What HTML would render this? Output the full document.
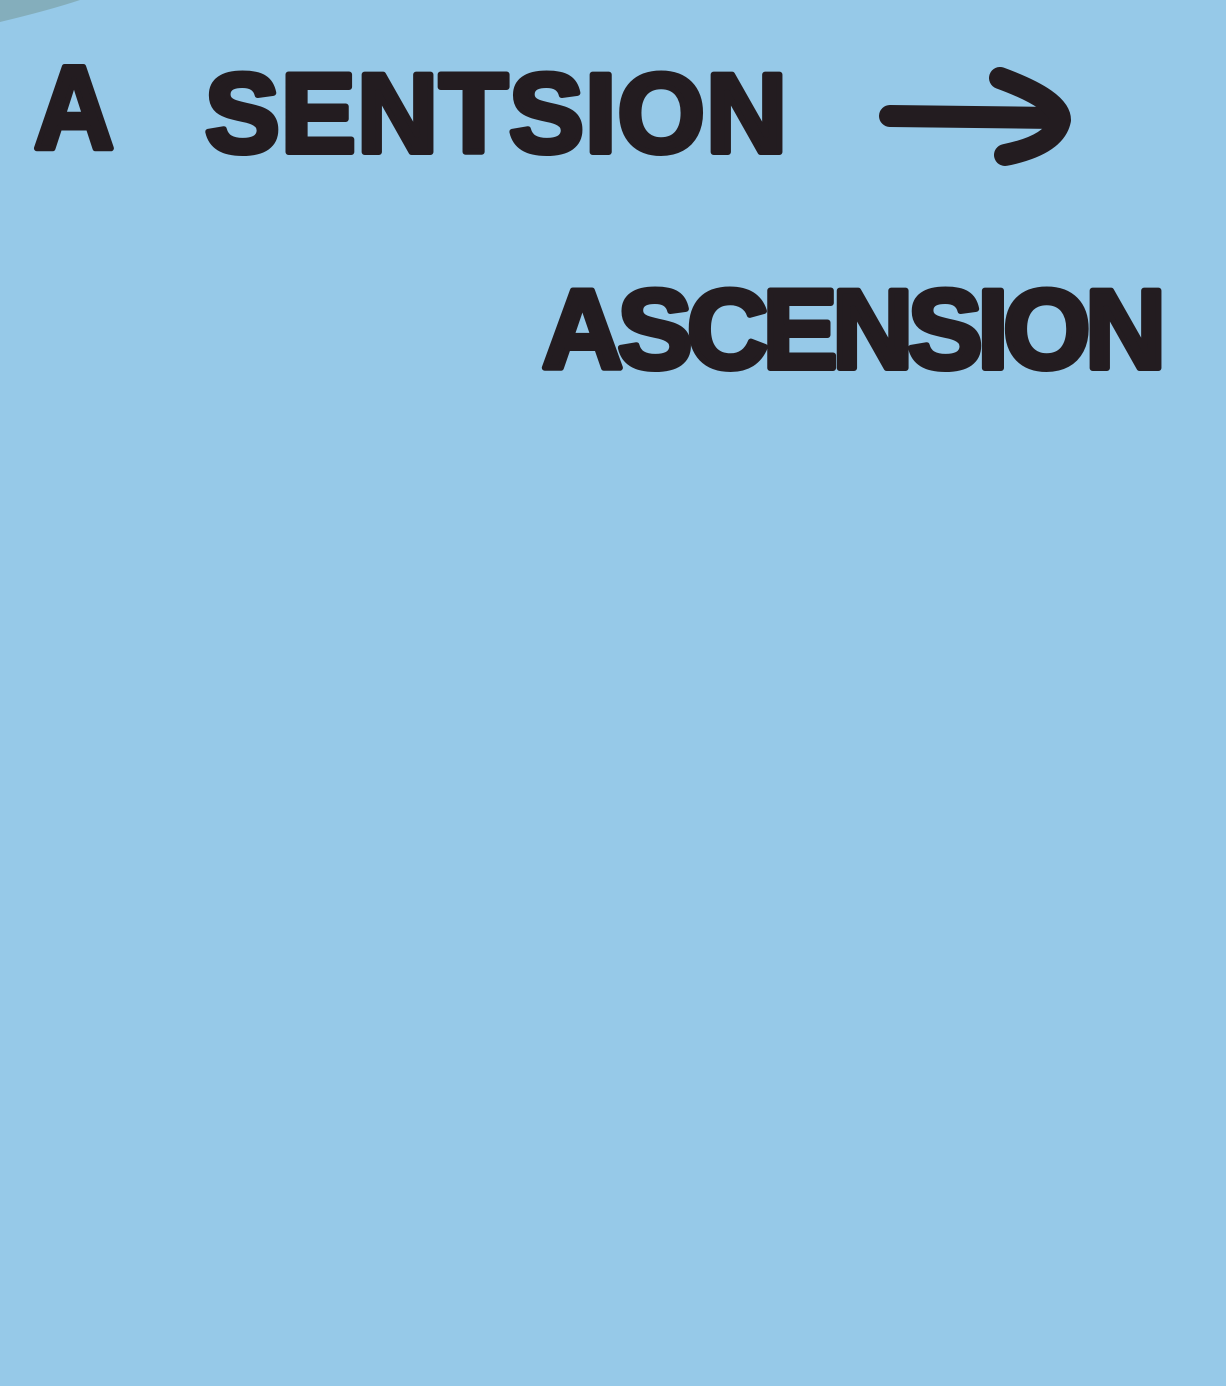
<!DOCTYPE html>
<html><head><meta charset="utf-8"><style>
html,body{margin:0;padding:0;width:1226px;height:1386px;overflow:hidden;background:#96c9e8;}
svg{display:block}
</style></head><body>
<svg width="1226" height="1386" viewBox="0 0 1226 1386">
<rect width="1226" height="1386" fill="#96c9e8"/>
<path d="M0,0 L80,0 Q50,10 0,22 Z" fill="#7fa8b0" opacity="0.8"/>
<g fill="#231c20" stroke="#231c20" stroke-width="6" stroke-linejoin="round" font-family="'Liberation Sans', sans-serif" font-weight="bold">
<text x="34" y="148" font-size="118" textLength="80" lengthAdjust="spacingAndGlyphs">A</text>
<text x="205" y="152" font-size="112" textLength="590" lengthAdjust="spacing" letter-spacing="8">SENTSION</text>
<text x="542" y="368" font-size="112" textLength="630" lengthAdjust="spacing" letter-spacing="6">ASCENSION</text>
</g>
<g fill="none" stroke="#231c20" stroke-width="22" stroke-linecap="round" stroke-linejoin="round">
<path d="M890,116 L1055,118"/>
<path d="M1000,78 Q1060,100 1060,120 Q1055,145 1005,155"/>
</g>
</svg>
</body></html>
